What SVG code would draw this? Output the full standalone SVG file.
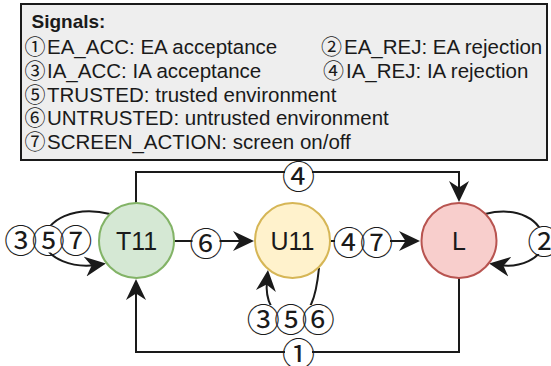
<svg xmlns="http://www.w3.org/2000/svg" width="551" height="366" viewBox="0 0 551 366">
  <style>
    .legend-box { fill: #eeeeee; stroke: #1a1a1a; stroke-width: 2; }
    .legend-title { font-family: "Liberation Sans", "Noto Sans CJK JP", sans-serif; font-size: 19px; font-weight: bold; fill: #1a1a1a; }
    .legend { font-family: "Liberation Sans", "Noto Sans CJK JP", sans-serif; font-size: 20.5px; fill: #1a1a1a; }
    .num { font-family: "Noto Sans CJK JP", sans-serif; font-size: 21px; }
    .state { stroke-width: 2; }
    .state-label { font-family: "Liberation Sans", "Noto Sans CJK JP", sans-serif; font-size: 25px; fill: #1a1a1a; text-anchor: middle; }
    .edge { fill: none; stroke: #1a1a1a; stroke-width: 2; }
    .arrow { marker-end: url(#head); }
    .sig { font-family: "Noto Sans CJK JP", "Liberation Sans", sans-serif; font-size: 33px; fill: #1a1a1a; text-anchor: middle; }
    .sig-bg { fill: #ffffff; }
  </style>
  <defs>
    <!-- classic notched arrowhead; path end sits 10px behind the tip -->
    <marker id="head" markerUnits="userSpaceOnUse" viewBox="0 0 21 21" markerWidth="21" markerHeight="21" refX="11" refY="10.5" orient="auto">
      <path d="M21,10.5 L0,0.5 L6.5,10.5 L0,20.5 Z" fill="#1a1a1a"/>
    </marker>
  </defs>

  <!-- legend -->
  <g id="legend">
    <rect class="legend-box" x="21" y="4" width="526" height="156"/>
    <text class="legend-title" x="31.5" y="28">Signals:</text>
    <text class="legend" x="24.5" y="54"><tspan class="num">①</tspan> <tspan x="47">EA_ACC: EA acceptance</tspan></text>
    <text class="legend" x="321" y="54"><tspan class="num">②</tspan> <tspan x="344">EA_REJ: EA rejection</tspan></text>
    <text class="legend" x="24.5" y="78"><tspan class="num">③</tspan> <tspan x="47">IA_ACC: IA acceptance</tspan></text>
    <text class="legend" x="323" y="78"><tspan class="num">④</tspan> <tspan x="346">IA_REJ: IA rejection</tspan></text>
    <text class="legend" x="24.5" y="102"><tspan class="num">⑤</tspan> <tspan x="47">TRUSTED: trusted environment</tspan></text>
    <text class="legend" x="24.5" y="125"><tspan class="num">⑥</tspan> <tspan x="47">UNTRUSTED: untrusted environment</tspan></text>
    <text class="legend" x="24.5" y="149"><tspan class="num">⑦</tspan> <tspan x="47">SCREEN_ACTION: screen on/off</tspan></text>
  </g>

  <!-- transitions -->
  <g id="connectors">
    <!-- T11 -> L over the top -->
    <path class="edge arrow" d="M136,203 V172 H459 V192"/>
    <!-- L -> T11 along the bottom -->
    <path class="edge arrow" d="M459,278 V352 H136 V289"/>
    <!-- T11 -> U11 -->
    <path class="edge arrow" d="M174,241 H244"/>
    <!-- U11 -> L -->
    <path class="edge arrow" d="M330,241 H410"/>
    <!-- self loops -->
    <path class="edge arrow" d="M110,214 C75,205 45,220 45,240 C45,260 75,268 96,265"/>
    <path class="edge arrow" d="M319,268 C316,298 310,318 292,318 C272,318 265,300 267,280"/>
    <path class="edge arrow" d="M485,214 C518,206 542,220 543,240 C544,260 518,268 499,265"/>

    <!-- edge labels -->
    <rect class="sig-bg" x="285" y="162" width="27" height="27"/>
    <text class="sig" x="298.5" y="188.5">④</text>
    <rect class="sig-bg" x="285" y="339" width="27" height="27"/>
    <text class="sig" x="298.5" y="365.5">①</text>
    <rect class="sig-bg" x="192.5" y="228.5" width="27" height="27"/>
    <text class="sig" x="206" y="255.5">⑥</text>
    <rect class="sig-bg" x="335" y="228" width="55" height="27"/>
    <text class="sig" x="349 376.5" y="255">④⑦</text>
    <rect class="sig-bg" x="7" y="225.5" width="83" height="27"/>
    <text class="sig" x="20.7 48.2 75.7" y="252.5">③⑤⑦</text>
    <rect class="sig-bg" x="249.5" y="305" width="82" height="27"/>
    <text class="sig" x="263.3 290.8 318.3" y="332">③⑤⑥</text>
    <rect class="sig-bg" x="530.5" y="227" width="27" height="27"/>
    <text class="sig" x="544" y="254">②</text>
  </g>

  <!-- states -->
  <g id="T11">
    <circle class="state" cx="136.5" cy="240.5" r="37.5" fill="#d5e8d4" stroke="#82b366"/>
    <text class="state-label" x="136.5" y="249.5">T11</text>
  </g>
  <g id="U11">
    <circle class="state" cx="292.5" cy="240.5" r="37.5" fill="#fff2cc" stroke="#d6b656"/>
    <text class="state-label" x="292.5" y="249.5">U11</text>
  </g>
  <g id="L">
    <circle class="state" cx="459" cy="240.5" r="37.5" fill="#f8cecc" stroke="#b85450"/>
    <text class="state-label" x="459" y="249.5">L</text>
  </g>
</svg>
